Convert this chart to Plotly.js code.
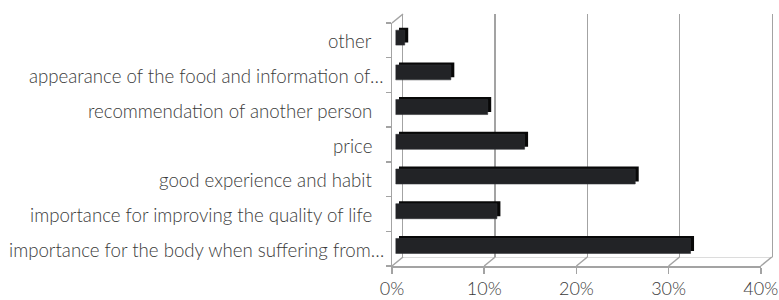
<!DOCTYPE html>
<html>
<head>
<meta charset="utf-8">
<script src="https://cdn.plot.ly/plotly-3.0.1.min.js"></script>
<style>html,body{margin:0;padding:0;background:#fff;}#chart{width:779px;height:300px;}</style>
</head>
<body>
<div id="chart"></div>
<script>
// ---- data (bottom to top, as drawn) ----
const categories = [
  "importance for the body when suffering from…",
  "importance for improving the quality of life",
  "good experience and habit",
  "price",
  "recommendation of another person",
  "appearance of the food and information of…",
  "other"
];
const shares = [0.32, 0.11, 0.26, 0.14, 0.10, 0.06, 0.01];
const xTickVals = [0, 0.1, 0.2, 0.3, 0.4];
const xTickText = ["0%", "10%", "20%", "30%", "40%"];

// ---- geometry of the pseudo-3D frame (pixels) ----
const W = 779, H = 300;
const XMAX = 0.4, PXU = 922;           // pixels per unit share
const FRONT = {x: 392, top: 23, bot: 266};
const DEPTH = {dx: 11, dy: -9};
const BARF = {dx: 3.5, dy: -2.7};
const BARB = {dx: 7, dy: -5.2};
const GRID = '#a3a3a3';
const LABEL_RIGHT = 374, LABEL_RIGHT_TRUNC = 386;

function xdom(x0) { return [x0 / W, (x0 + XMAX * PXU) / W]; }
function ydom(top, bot) { return [1 - bot / H, 1 - top / H]; }

const font = {family: 'Lato, "Open Sans", sans-serif', size: 18.67, color: '#3a3a3a', weight: 300};
const xfont = Object.assign({}, font, {size: 18});

const ghost = (xa, ya) => ({type: 'scatter', mode: 'markers', x: shares, y: categories, xaxis: xa, yaxis: ya,
  marker: {opacity: 0}, hoverinfo: 'skip', showlegend: false});

const traces = [
  ghost('x', 'y'),
  {type: 'bar', orientation: 'h', x: shares, y: categories, xaxis: 'x2', yaxis: 'y2',
   width: 0.43, marker: {color: '#080808'}, hoverinfo: 'skip', showlegend: false},
  {type: 'bar', orientation: 'h', x: shares, y: categories, xaxis: 'x3', yaxis: 'y3',
   width: 0.43, marker: {color: '#222326', line: {color: '#303236', width: 0.6}}, hoverinfo: 'skip', showlegend: false},
  ghost('x4', 'y4')
];

const catAxis = {type: 'category', categoryorder: 'array', categoryarray: categories,
  range: [-0.5, categories.length - 0.5], fixedrange: true};
const hiddenX = (x0, anchor) => ({domain: xdom(x0), range: [0, XMAX], visible: false, fixedrange: true, anchor: anchor});
const hiddenYcat = (top, bot, anchor) => Object.assign({}, catAxis, {domain: ydom(top, bot), visible: false, anchor: anchor});

const shapes = [];
xTickVals.forEach(v => {
  const fx = FRONT.x + v * PXU;
  shapes.push({type: 'line', xref: 'paper', yref: 'paper',
    x0: fx / W, y0: 1 - FRONT.bot / H, x1: (fx + DEPTH.dx) / W, y1: 1 - (FRONT.bot + DEPTH.dy) / H,
    line: {color: GRID, width: 1.5}});
});
shapes.push({type: 'line', xref: 'paper', yref: 'paper',
  x0: FRONT.x / W, y0: 1 - FRONT.top / H, x1: (FRONT.x + DEPTH.dx) / W, y1: 1 - (FRONT.top + DEPTH.dy) / H,
  line: {color: GRID, width: 1.5}});

// category labels (Excel draws truncated labels a little further right)
const annotations = categories.map(c => ({
  text: c, xref: 'paper', yref: 'y4', x: (c.endsWith('…') ? LABEL_RIGHT_TRUNC : LABEL_RIGHT) / W, y: c,
  xanchor: 'right', yanchor: 'middle', showarrow: false, font: font, yshift: -1
}));

const layout = {
  width: W, height: H,
  margin: {l: 0, r: 0, t: 0, b: 0, pad: 0},
  paper_bgcolor: '#ffffff', plot_bgcolor: 'rgba(0,0,0,0)',
  showlegend: false,
  font: font,
  // back wall
  xaxis: {domain: xdom(FRONT.x + DEPTH.dx), range: [0, XMAX], anchor: 'y',
    showgrid: true, gridcolor: GRID, gridwidth: 1.5, tickvals: xTickVals, showticklabels: false,
    ticks: '', zeroline: false, showline: true, linecolor: '#dcdcdc', linewidth: 1, fixedrange: true},
  yaxis: Object.assign({}, catAxis, {domain: ydom(FRONT.top + DEPTH.dy, FRONT.bot + DEPTH.dy),
    anchor: 'x', showgrid: false, showticklabels: false, ticks: '', zeroline: false,
    showline: true, mirror: true, linecolor: GRID, linewidth: 1.5}),
  // bar back faces
  xaxis2: hiddenX(FRONT.x + BARB.dx, 'y2'),
  yaxis2: hiddenYcat(FRONT.top + BARB.dy, FRONT.bot + BARB.dy, 'x2'),
  // bar front faces
  xaxis3: hiddenX(FRONT.x + BARF.dx, 'y3'),
  yaxis3: hiddenYcat(FRONT.top + BARF.dy, FRONT.bot + BARF.dy, 'x3'),
  // front frame with labels
  xaxis4: {domain: xdom(FRONT.x), range: [0, XMAX], anchor: 'y4',
    tickvals: xTickVals, ticktext: xTickText, ticks: 'outside', ticklen: 6, tickwidth: 1.5, tickcolor: GRID,
    showline: true, linecolor: GRID, linewidth: 1.5, showgrid: false, zeroline: false,
    tickfont: xfont, ticklabelstandoff: 0, ticklabeloverflow: 'allow', fixedrange: true},
  yaxis4: Object.assign({}, catAxis, {domain: ydom(FRONT.top, FRONT.bot), anchor: 'x4',
    tickson: 'boundaries', ticks: 'outside', ticklen: 5, tickwidth: 1.5, tickcolor: GRID,
    showline: true, linecolor: GRID, linewidth: 1.5, showgrid: false, zeroline: false,
    showticklabels: false}),
  shapes: shapes,
  annotations: annotations
};

Plotly.newPlot('chart', traces, layout, {displayModeBar: false, staticPlot: true});
</script>
</body>
</html>
